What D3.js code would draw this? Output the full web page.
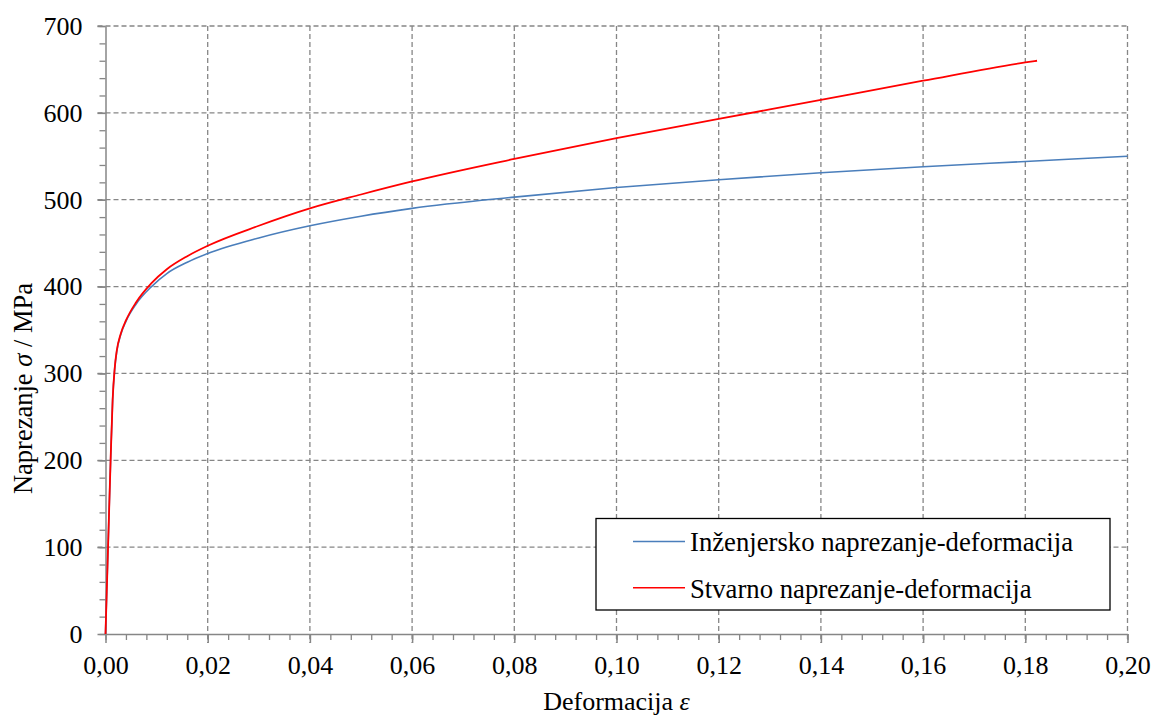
<!DOCTYPE html>
<html><head><meta charset="utf-8">
<script src="https://cdn.jsdelivr.net/npm/d3@7"></script>
<style>body{margin:0;background:#fff}svg{display:block}</style>
</head><body><svg id="c" width="1154" height="717"></svg>
<script>
const engStrain = [0,0.0005,0.001,0.0014,0.0018,0.0022,0.003,0.004,0.006,0.009,0.012,0.016,0.02,0.03,0.04,0.05,0.06,0.08,0.10,0.12,0.14,0.16,0.18,0.20];
const engStress = [0,100,200,270,305,325,345,360,380,400,415,428,438,456,470,481,490,503,514,523,531,538,544,550];
const trueStrain = [0,0.0005,0.001,0.0014,0.0018,0.0022,0.003,0.004,0.006,0.009,0.012,0.016,0.02,0.03,0.04,0.05,0.06,0.08,0.10,0.12,0.14,0.16,0.18,0.1823];
const trueStress = [0,100,200,270,306,326,346,361,382,404,420,435,447,470,490,506,521,547,571,593,615,637,658,660];
const xTicks = [0,0.02,0.04,0.06,0.08,0.10,0.12,0.14,0.16,0.18,0.20];
const yTicks = [0,100,200,300,400,500,600,700];
const seriesNames = ["Inženjersko naprezanje-deformacija","Stvarno naprezanje-deformacija"];
const seriesColors = ["#4a7ebb","#ff0000"];

const FONT = "Liberation Serif";
const FS = 26;
const svg = d3.select("#c");
const L=105.5, R=1127.5, T=26, B=634;
const x = d3.scaleLinear().domain([0,0.2]).range([L,R]);
const y = d3.scaleLinear().domain([0,700]).range([B,T]);
const axisCol="#868686";

// grid
const g = svg.append("g");
g.selectAll(".gx").data(xTicks.slice(1)).enter().append("line")
 .attr("x1",d=>x(d)).attr("x2",d=>x(d)).attr("y1",T).attr("y2",B+9)
 .attr("stroke",axisCol).attr("stroke-width",1.3).attr("stroke-dasharray","5,3");
g.selectAll(".gy").data(yTicks.slice(1)).enter().append("line")
 .attr("x1",L-8).attr("x2",R).attr("y1",d=>y(d)).attr("y2",d=>y(d))
 .attr("stroke",axisCol).attr("stroke-width",1.3).attr("stroke-dasharray","5,3");

// minor ticks
const xMinor = d3.range(0,0.2001,0.004);
const yMinor = d3.range(0,700.1,20);
svg.append("g").attr("transform",`translate(0,${B})`)
 .call(d3.axisBottom(x).tickValues(xMinor).tickSize(6).tickFormat(""))
 .call(a=>a.select(".domain").remove()).selectAll("line").attr("stroke",axisCol).attr("stroke-width",1.3);
svg.append("g").attr("transform",`translate(${L},0)`)
 .call(d3.axisLeft(y).tickValues(yMinor).tickSize(6).tickFormat(""))
 .call(a=>a.select(".domain").remove()).selectAll("line").attr("stroke",axisCol).attr("stroke-width",1.3);

// major axes
const fmt = d=>d3.format(".2f")(d).replace(".",",");
const xa = svg.append("g").attr("transform",`translate(0,${B})`)
 .call(d3.axisBottom(x).tickValues(xTicks).tickSize(9).tickSizeOuter(0).tickPadding(13).tickFormat(fmt));
const ya = svg.append("g").attr("transform",`translate(${L},0)`)
 .call(d3.axisLeft(y).tickValues(yTicks).tickSize(8).tickSizeOuter(0).tickPadding(15));
[xa,ya].forEach(a=>{
  a.attr("font-family",null).attr("font-size",null);
  a.selectAll("text").attr("fill","#000").attr("font-family",FONT).attr("font-size",FS);
  a.selectAll("line,.domain").attr("stroke",axisCol).attr("stroke-width",1.5);
});

// lines
const line = d3.line().x(d=>x(d[0])).y(d=>y(d[1])).curve(d3.curveMonotoneX);
svg.append("path").datum(d3.zip(engStrain,engStress)).attr("d",line)
 .attr("fill","none").attr("stroke",seriesColors[0]).attr("stroke-width",1.6);
svg.append("path").datum(d3.zip(trueStrain,trueStress)).attr("d",line)
 .attr("fill","none").attr("stroke",seriesColors[1]).attr("stroke-width",1.8);

// axis titles
const xt = svg.append("text").attr("x",(L+R)/2).attr("y",710).attr("text-anchor","middle")
 .attr("font-family",FONT).attr("font-size",FS);
xt.append("tspan").text("Deformacija ");
xt.append("tspan").attr("font-style","italic").text("ε");
const yt = svg.append("text").attr("transform","translate(31.5,283) rotate(-90)").attr("text-anchor","end")
 .attr("font-family",FONT).attr("font-size",26.5);
yt.append("tspan").text("Naprezanje ");
yt.append("tspan").attr("font-style","italic").text("σ");
yt.append("tspan").text(" / MPa");

// legend
const lg = svg.append("g");
lg.append("rect").attr("x",596).attr("y",518.5).attr("width",514).attr("height",91.5)
 .attr("fill","#fff").attr("stroke","#000").attr("stroke-width",1.3);
seriesNames.forEach((n,i)=>{
  const yy = 541.5+i*46.3;
  lg.append("line").attr("x1",633).attr("x2",685).attr("y1",yy).attr("y2",yy).attr("stroke",seriesColors[i]).attr("stroke-width",1.6);
  lg.append("text").attr("x",690).attr("y",yy+9.8).attr("font-family",FONT).attr("font-size",26.7).text(n);
});
</script></body></html>
